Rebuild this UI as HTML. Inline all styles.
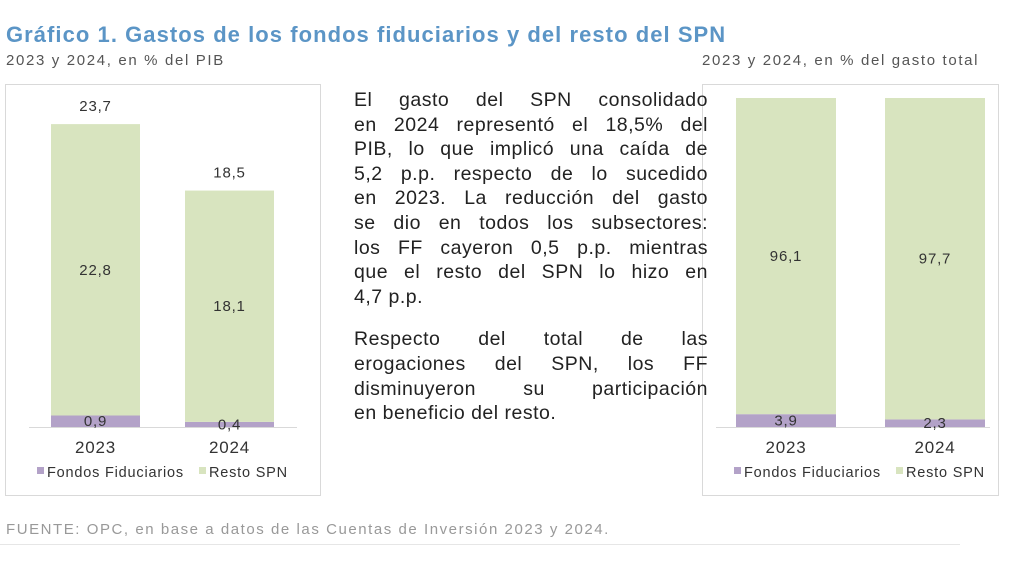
<!DOCTYPE html>
<html><head><meta charset="utf-8"><style>
body{margin:0;width:1024px;height:576px;background:#fff;font-family:"Liberation Sans",sans-serif;position:relative;overflow:hidden}
.abs{position:absolute;white-space:nowrap}
#title{left:6px;top:22px;font-size:22px;font-weight:bold;color:#5b95c6;letter-spacing:1.05px}
.sub{font-size:15px;color:#555;top:52px;letter-spacing:1.65px}
.box{position:absolute;top:84px;height:412px;border:1.5px solid #d9d9d9;box-sizing:border-box}
#para{position:absolute;left:354px;top:89px;width:354px;font-size:19.5px;color:#222;letter-spacing:0.5px}
#para div{height:24.6px;text-align:justify;text-align-last:justify;white-space:nowrap}
#para div.l{text-align-last:left}
#foot{left:6px;top:521px;font-size:15px;color:#999;letter-spacing:1.55px}
svg text{letter-spacing:0.8px}
</style></head><body>
<div id="title" class="abs">Gráfico 1. Gastos de los fondos fiduciarios y del resto del SPN</div>
<div class="abs sub" style="left:6px">2023 y 2024, en % del PIB</div>
<div class="abs sub" style="left:702px">2023 y 2024, en % del gasto total</div>
<div class="box" style="left:5px;width:316px"></div>
<div class="box" style="left:702px;width:297px"></div>
<svg id="svg" width="1024" height="576" style="position:absolute;left:0;top:0"></svg>
<div id="para">
<div>El gasto del SPN consolidado</div>
<div>en 2024 representó el 18,5% del</div>
<div>PIB, lo que implicó una caída de</div>
<div>5,2 p.p. respecto de lo sucedido</div>
<div>en 2023. La reducción del gasto</div>
<div>se dio en todos los subsectores:</div>
<div>los FF cayeron 0,5 p.p. mientras</div>
<div>que el resto del SPN lo hizo en</div>
<div class="l">4,7 p.p.</div>
<div style="height:18px"></div>
<div>Respecto del total de las</div>
<div>erogaciones del SPN, los FF</div>
<div>disminuyeron su participación</div>
<div class="l">en beneficio del resto.</div>
</div>
<div id="foot" class="abs">FUENTE: OPC, en base a datos de las Cuentas de Inversión 2023 y 2024.</div>
<div class="abs" style="left:0;top:544px;width:960px;height:1px;background:#e6e6e6"></div>
<script>
const categories=["2023","2024"];
const pibFF=[0.9,0.4];
const pibResto=[22.8,18.1];
const pibTotal=[23.7,18.5];
const shareFF=[3.9,2.3];
const shareResto=[96.1,97.7];
const svg=document.getElementById('svg');
const NS='http://www.w3.org/2000/svg';
function el(t,a){const e=document.createElementNS(NS,t);for(const k in a)e.setAttribute(k,a[k]);svg.appendChild(e);return e;}
function txt(x,y,s,size,fill){const t=el('text',{x:x,y:y,'text-anchor':'middle','font-size':size,fill:fill||'#333','font-family':'Liberation Sans, sans-serif'});t.textContent=s;return t;}
const base=427;
function chart(name,xs,bw,scale,ff,resto,total,axisX0,axisX1,legX){
  const y=v=>base-v*scale;
  const ax=el('line',{x1:axisX0,x2:axisX1,y1:base+0.5,y2:base+0.5,stroke:'#d9d9d9'});
  
  
  categories.forEach((c,i)=>{
    const x=xs[i];
    const r1=el('rect',{x:x,y:y(ff[i]),width:bw,height:ff[i]*scale,fill:'#b3a2c8'});
    
    
    const r2=el('rect',{x:x,y:y(ff[i]+resto[i]),width:bw,height:resto[i]*scale,fill:'#d8e4bf'});
    
    
    const cx=x+bw/2;
    const l1=txt(cx,Math.min(y(ff[i]/2)+5,base+4),String(ff[i]).replace('.',','),15);
    
    
    const l2=txt(cx,y(ff[i]+resto[i]/2)+5,String(resto[i]).replace('.',','),15);
    
    
    if(total){const l3=txt(cx,y(total[i])-13,String(total[i]).replace('.',','),15);
      
      }
    const lc=txt(cx,453,c,17);
    
    
  });
  const s1=el('rect',{x:legX,y:467,width:7,height:7,fill:'#b3a2c8'});
  
  
  const t1=txt(legX+10,477,'Fondos Fiduciarios',14.5);t1.setAttribute('text-anchor','start');
  
  
  const s2=el('rect',{x:legX+162,y:467,width:7,height:7,fill:'#d8e4bf'});
  
  
  const t2=txt(legX+172,477,'Resto SPN',14.5);t2.setAttribute('text-anchor','start');
  
  
}
chart('pib',[51,185],89,12.78,pibFF,pibResto,pibTotal,29,297,37);
chart('share',[736,885],100,3.29,shareFF,shareResto,null,716,990,734);
</script>
</body></html>
